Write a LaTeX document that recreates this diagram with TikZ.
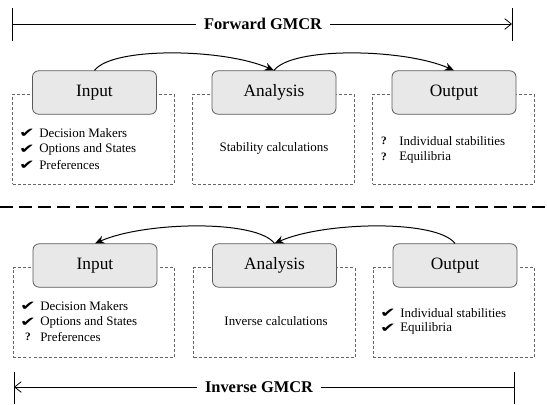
\documentclass[tikz,border=0pt]{standalone}
\usepackage{fontspec}
\setmainfont{Liberation Serif}
\newfontfamily\djv{DejaVu Sans}
\usetikzlibrary{arrows.meta}
\newcommand{\chkmark}{\scalebox{1.4}[1]{\djv\fontsize{10}{11}\selectfont ✔}}
\begin{document}
\begin{tikzpicture}[x=0.75pt,y=-0.75pt,
  gbox/.style={draw=black!65, fill=black!9, rounded corners=4.5pt, line width=0.6pt,
    minimum width=93pt, minimum height=32.5pt, inner sep=0pt,
    font=\fontsize{13}{15}\selectfont},
  dbox/.style={draw=black!60, dashed, dash pattern=on 2.2pt off 1.6pt, line width=0.6pt,
    minimum width=121pt, minimum height=67.5pt, inner sep=0pt},
  item/.style={anchor=west, inner sep=0pt, font=\fontsize{9.7}{11}\selectfont},
  chk/.style={inner sep=0pt},
  qm/.style={inner sep=0pt, font=\bfseries\fontsize{8.5}{10}\selectfont},
  title/.style={fill=white, inner xsep=6pt, inner ysep=1pt, font=\bfseries\fontsize{12.3}{14}\selectfont},
  conn/.style={line width=0.75pt, -{Stealth[length=7pt,width=6pt]}},
  bar/.style={line width=0.6pt},
]
\useasboundingbox (0,0) rectangle (547,404);

% ---------- Forward title bar ----------
\coordinate (ftl1) at (12,8);  \coordinate (ftl2) at (12,41);
\coordinate (ftr1) at (512,8); \coordinate (ftr2) at (512,41);
\coordinate (fl) at (12,24);   \coordinate (fr) at (512,24);
\draw[bar] (ftl1) -- (ftl2);
\draw[bar] (ftr1) -- (ftr2);
\node[title] (fw) at (263,24) {Forward GMCR};
\draw[bar] (fl) -- (fw);
\draw[bar, -{Straight Barb[length=5pt,width=8pt]}] (fw) -- (fr);

% ---------- Forward dashed boxes ----------
\node[dbox] (inTd) at (93.5,139) {};
\node[dbox] (anTd) at (273.5,139) {};
\node[dbox] (ouTd) at (453.5,139) {};

% ---------- Forward gray boxes ----------
\node[gbox] (inT) at (94.5,92.5) {Input};
\node[gbox] (anT) at (274,92.5) {Analysis};
\node[gbox] (ouT) at (454,92.5) {Output};

\draw[conn] (inT.north) .. controls +(18,-24) and +(-50,-22) .. (anT.north);
\draw[conn] (anT.north) .. controls +(18,-24) and +(-50,-22) .. (ouT.north);

% items forward input
\node[chk] (c1) at (27,133) {\chkmark};
\node[item] (t1) at (39,133) {Decision Makers};
\node[chk] (c2) at (27,149) {\chkmark};
\node[item] (t2) at (39,149) {Options and States};
\node[chk] (c3) at (27,165.5) {\chkmark};
\node[item] (t3) at (39,165.5) {Preferences};
% forward analysis
\node[inner sep=0pt, font=\fontsize{9.7}{11}\selectfont] (sc) at (274,148) {Stability calculations};
% forward output
\node[qm] (q1) at (384,140.5) {?};
\node[item] (t4) at (399,141) {Individual stabilities};
\node[qm] (q2) at (384,156.5) {?};
\node[item] (t5) at (399,157) {Equilibria};

% ---------- separator ----------
\coordinate (sl) at (0,207); \coordinate (sr) at (547,207);
\draw[line width=1.6pt, dash pattern=on 9.75pt off 4.5pt] (sl) -- (sr);

% ---------- Inverse dashed boxes ----------
\node[dbox] (inBd) at (94,312.5) {};
\node[dbox] (anBd) at (274.5,312.5) {};
\node[dbox] (ouBd) at (454,312.5) {};

% ---------- Inverse gray boxes ----------
\node[gbox] (inB) at (95,265.5) {Input};
\node[gbox] (anB) at (274.5,265.5) {Analysis};
\node[gbox] (ouB) at (455,265.5) {Output};

\draw[conn] (ouB.north) .. controls +(-18,-24) and +(50,-22) .. (anB.north);
\draw[conn] (anB.north) .. controls +(-18,-24) and +(50,-22) .. (inB.north);

% items inverse input
\node[chk] (c4) at (28,306) {\chkmark};
\node[item] (t6) at (40,306) {Decision Makers};
\node[chk] (c5) at (28,322) {\chkmark};
\node[item] (t7) at (40,322) {Options and States};
\node[qm] (q3) at (28,337) {?};
\node[item] (t8) at (40,337.5) {Preferences};
% inverse analysis
\node[inner sep=0pt, font=\fontsize{9.7}{11}\selectfont] (ic) at (276,321) {Inverse calculations};
% inverse output
\node[chk] (c6) at (388,313) {\chkmark};
\node[item] (t9) at (400,313) {Individual stabilities};
\node[chk] (c7) at (388,328.5) {\chkmark};
\node[item] (t10) at (400,328.5) {Equilibria};

% ---------- Inverse title bar ----------
\coordinate (itl1) at (14,372); \coordinate (itl2) at (14,404);
\coordinate (itr1) at (514,372); \coordinate (itr2) at (514,404);
\coordinate (il) at (14,387);   \coordinate (ir) at (514,387);
\draw[bar] (itl1) -- (itl2);
\draw[bar] (itr1) -- (itr2);
\node[title] (iv) at (259,387) {Inverse GMCR};
\draw[bar] (iv) -- (ir);
\draw[bar, -{Straight Barb[length=5pt,width=8pt]}] (iv) -- (il);
\end{tikzpicture}
\end{document}
